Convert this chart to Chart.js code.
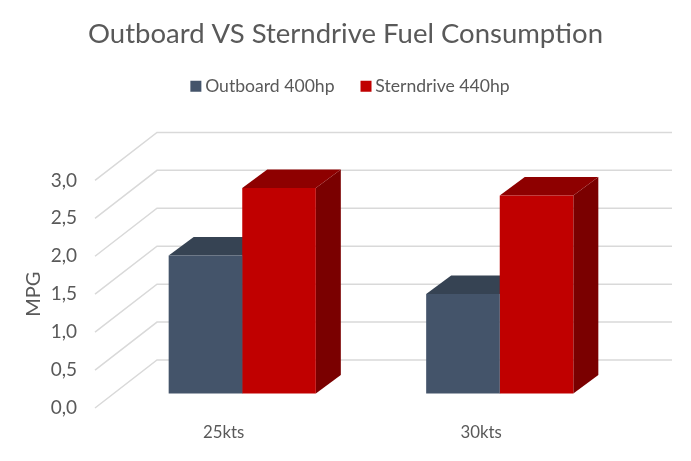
<!DOCTYPE html>
<html><head><meta charset="utf-8">
<style>html,body{margin:0;padding:0;background:#fff}#w{width:691px;height:461px}</style>
<script src="https://cdn.jsdelivr.net/npm/chart.js@4"></script>
</head><body><div id="w"><canvas id="c"></canvas></div>
<script>
const categories = ['25kts', '30kts'];
const outboard400 = [1.82, 1.31];
const sterndrive440 = [2.71, 2.61];
const yTicks = [0, 0.5, 1, 1.5, 2, 2.5, 3];

const TEXT = '#595959', GRID = '#D9D9D9';
const FONT = 'Lato, "Open Sans", sans-serif';
const topColors = ['#364353', '#8E0000'];
const sideColors = ['#2c3644', '#7A0000'];
// projection of the floor depth
const WALL = {dx: 62, dy: -48};
const BAR = {dx: 18.5, dy: -14.5, depthX: 25, depthY: -18.5};

function poly(ctx, pts, color) {
  ctx.fillStyle = color;
  ctx.beginPath();
  pts.forEach((p, i) => i ? ctx.lineTo(p[0], p[1]) : ctx.moveTo(p[0], p[1]));
  ctx.closePath();
  ctx.fill();
}

const legendGap = {
  id: 'legendGap',
  beforeInit(chart) {
    const lg = chart.legend, fit = lg.fit, draw = lg.draw;
    lg.fit = function () { fit.call(this); this.height = 129.4; };
    lg.draw = function () {
      const ctx = this.ctx;
      ctx.save();
      ctx.translate(7, -4.6);
      draw.call(this);
      ctx.restore();
    };
  }
};

const depth = {
  id: 'depth',
  beforeDatasetsDraw(chart) {
    const ctx = chart.ctx, y = chart.scales.y, area = chart.chartArea;
    ctx.save();
    ctx.strokeStyle = GRID;
    ctx.lineWidth = 1.5;
    y.ticks.forEach(t => {
      const py = y.getPixelForValue(t.value);
      ctx.beginPath();
      ctx.moveTo(area.left, py);
      ctx.lineTo(area.left + WALL.dx, py + WALL.dy);
      ctx.lineTo(area.right + WALL.dx, py + WALL.dy);
      ctx.stroke();
    });
    ctx.restore();
    ctx.save();
    ctx.translate(BAR.dx, BAR.dy);
    chart.data.datasets.forEach((ds, i) => {
      chart.getDatasetMeta(i).data.forEach(b => {
        const l = b.x - b.width / 2, r = b.x + b.width / 2;
        const ddx = BAR.depthX, ddy = BAR.depthY;
        poly(ctx, [[r, b.y], [r + ddx, b.y + ddy], [r + ddx, b.base + ddy], [r, b.base]], sideColors[i]);
        poly(ctx, [[l, b.y], [l + ddx, b.y + ddy], [r + ddx, b.y + ddy], [r, b.y]], topColors[i]);
      });
    });
  },
  afterDatasetsDraw(chart) { chart.ctx.restore(); }
};

new Chart(document.getElementById('c'), {
  type: 'bar',
  data: {
    labels: categories,
    datasets: [
      {label: 'Outboard 400hp', data: outboard400, backgroundColor: '#44546A'},
      {label: 'Sterndrive 440hp', data: sterndrive440, backgroundColor: '#C00000'}
    ]
  },
  options: {
    responsive: true,
    maintainAspectRatio: false,
    animation: false,
    devicePixelRatio: 1,
    layout: {padding: 0},
    datasets: {bar: {categoryPercentage: 0.5715, barPercentage: 1, clip: false}},
    plugins: {
      tooltip: {enabled: false},
      title: {
        display: true,
        text: 'Outboard VS Sterndrive Fuel Consumption',
        color: TEXT,
        font: {family: FONT, size: 27.5, weight: 'normal'},
        padding: {top: 18, bottom: 0}
      },
      legend: {
        display: true,
        position: 'top',
        onClick: null,
        labels: {
          color: TEXT,
          font: {family: FONT, size: 17.6},
          usePointStyle: true,
          pointStyle: 'rect',
          boxWidth: 1,
          boxHeight: 11,
          padding: 31
        }
      }
    },
    scales: {
      x: {
        offset: true,
        grid: {display: false},
        border: {display: false},
        ticks: {color: TEXT, font: {family: FONT, size: 16.8}, padding: 7, maxRotation: 0},
        afterFit(s) { s.height = 53; }
      },
      y: {
        min: 0,
        max: 3,
        afterBuildTicks(s) { s.ticks = yTicks.map(value => ({value})); },
        grid: {display: false},
        border: {display: false},
        ticks: {
          color: TEXT,
          font: {family: FONT, size: 19},
          padding: 10,
          callback: v => v.toFixed(1).replace('.', ',')
        },
        title: {display: true, text: 'MPG', color: TEXT, font: {family: FONT, size: 20}, padding: {top: 22, bottom: 0}},
        afterFit(s) { s.width = 95; }
      },
      spacer: {
        position: 'right',
        min: 0,
        max: 3,
        grid: {display: false},
        border: {display: false},
        ticks: {display: false},
        afterFit(s) { s.width = 81; }
      }
    }
  },
  plugins: [legendGap, depth]
});
</script></body></html>
